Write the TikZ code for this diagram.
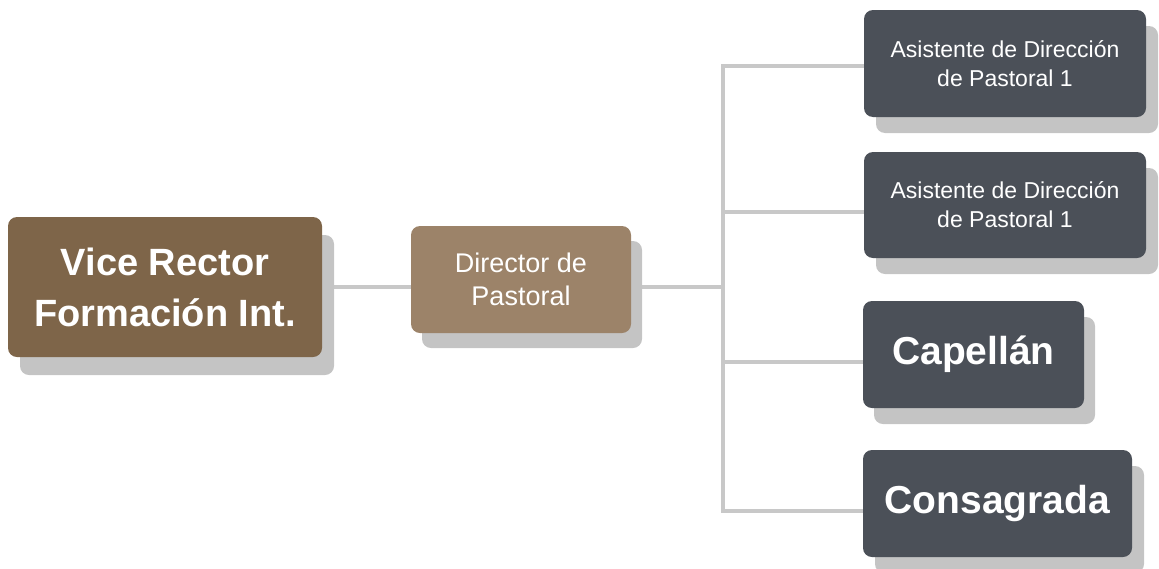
\documentclass[tikz,border=0pt]{standalone}
\usepackage{fontspec}
\setmainfont{Liberation Sans}
\usetikzlibrary{shadows,backgrounds}
\definecolor{vicebrown}{HTML}{7E6549}
\definecolor{dirbrown}{HTML}{9C8369}
\definecolor{darkbox}{HTML}{4B5058}
\definecolor{shadowgray}{HTML}{C4C4C4}
\definecolor{linegray}{HTML}{C8C8C8}
\begin{document}
\begin{tikzpicture}[x=1pt,y=-1pt,
  box/.style={rectangle, rounded corners=9pt, text=white, align=center, inner sep=0pt},
  shad/.style 2 args={drop shadow={shadow xshift=#1pt, shadow yshift=-#2pt, fill=shadowgray, opacity=1}},
  conn/.style={draw=linegray, line width=3.5pt},
  bigtxt/.style={font=\bfseries\fontsize{38}{51}\selectfont},
  midtxt/.style={font=\fontsize{27}{33}\selectfont},
  smalltxt/.style={font=\fontsize{23}{29}\selectfont},
  hugetxt/.style={font=\bfseries\fontsize{39}{47}\selectfont}]
\useasboundingbox (0,0) rectangle (1159,568);
\node[box, shad={12}{18}, fill=vicebrown, minimum width=314pt, minimum height=140pt, bigtxt] (vice) at (165,287) {Vice Rector\\Formación Int.};
\node[box, shad={11}{15}, fill=dirbrown, minimum width=220pt, minimum height=107pt, midtxt] (dir) at (521,279.5) {Director de\\Pastoral};
\node[box, shad={12}{16}, fill=darkbox, minimum width=282pt, minimum height=107pt, smalltxt] (b1) at (1005,63.5) {Asistente de Dirección\\de Pastoral 1};
\node[box, shad={12}{16}, fill=darkbox, minimum width=282pt, minimum height=106pt, smalltxt] (b2) at (1005,205) {Asistente de Dirección\\de Pastoral 1};
\node[box, shad={11}{16}, fill=darkbox, minimum width=221pt, minimum height=107pt, hugetxt] (b3) at (973.5,354.5) {Capellán};
\node[box, shad={12}{16}, fill=darkbox, minimum width=269pt, minimum height=107pt, hugetxt] (b4) at (997.5,503.5) {Consagrada};
\coordinate (trunk) at (723,287);
\coordinate (c1) at (723,66);
\coordinate (c2) at (723,212);
\coordinate (c3) at (723,362);
\coordinate (c4) at (723,511);
\begin{scope}[on background layer]
\draw[conn] (vice.east) -- (dir.west |- vice.east);
\draw[conn] (dir.east |- trunk) -- (trunk);
\draw[conn] (b1.west |- c1) -- (c1) -- (c4) -- (b4.west |- c4);
\draw[conn] (c2) -- (b2.west |- c2);
\draw[conn] (c3) -- (b3.west |- c3);
\end{scope}
\end{tikzpicture}
\end{document}
